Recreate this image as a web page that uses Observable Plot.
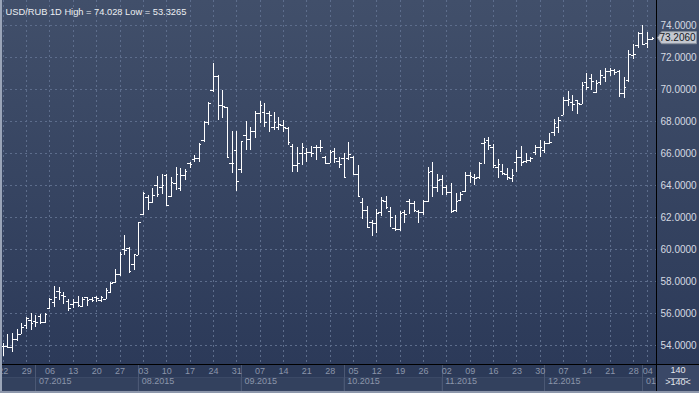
<!DOCTYPE html>
<html><head><meta charset="utf-8">
<script src="https://cdn.jsdelivr.net/npm/d3@7"></script>
<script src="https://cdn.jsdelivr.net/npm/@observablehq/plot@0.6"></script>
<style>
html,body{margin:0;padding:0;background:#2d3b59;}
#chart{position:relative;width:699px;height:393px;overflow:hidden;background:linear-gradient(to bottom,#414f6a 0px,#2c3a59 364px,#2c3a59 393px);}
#chart svg{display:block;}
#chart svg line{shape-rendering:crispEdges;}
</style></head><body><div id="chart"></div>
<script>
// ---- data (USD/RUB daily OHLC) ----
const startDate = "2015-06-22", endDate = "2016-01-05";
const holidays = ["2015-12-31", "2016-01-01"];
const openV = [53.95,53.92,53.90,54.35,54.70, 55.25,55.56,55.50,55.80,55.45, 56.30,56.70,57.40,57.10,56.77, 56.55,56.70,56.45,57.00,56.85, 56.98,56.80,56.90,57.33,57.96, 58.44,59.98,60.04,59.06,59.60, 62.20,63.27,62.96,64.00,63.90, 64.60,63.31,64.15,63.80,64.60, 65.40,65.60,65.70,66.80,67.96, 69.94,70.80,69.00,68.85,65.35, 66.19,65.00,67.10,66.85,67.40, 68.48,68.54,68.50,67.60,67.65, 67.75,67.54,66.44,65.25,65.98, 65.98,66.08,66.40,66.40,65.77, 65.40,66.10,65.50,65.67,65.70, 65.77,64.67,62.92,62.44,61.70, 61.60,62.30,63.00,62.40,61.30, 61.25,62.30,63.00,62.90,62.35, 62.30,63.00,64.90,63.90,64.40, 63.90,63.54,62.44,63.06,63.60, 64.60,64.50,64.50,66.60,66.80, 66.40,65.15,64.90,64.67,64.46, 65.46,65.77,65.50,65.56,66.04, 66.40,66.19,66.60,67.33,67.60, 68.38,69.31,69.20,69.30,69.04, 70.46,70.67,69.83,70.46,70.77, 71.13,71.19,71.13,69.73,70.56, 72.10,72.77,73.48,72.85,73.13];
const highV = [54.10,54.66,54.72,54.98,55.35, 55.75,55.98,55.90,55.92,55.98, 56.92,57.69,57.60,57.33,56.87, 56.85,57.06,57.00,57.02,56.98, 57.06,57.06,57.54,57.96,58.73, 59.83,60.87,60.15,59.69,61.71, 63.58,63.37,63.79,64.56,64.69, 64.69,64.52,65.15,65.04,65.00, 65.46,65.88,66.60,68.00,69.20, 71.60,70.88,69.94,68.90,67.35, 67.38,66.77,68.00,67.65,68.60, 69.25,69.10,68.60,68.58,68.23, 68.06,67.60,66.54,66.40,66.60, 66.29,66.44,66.50,66.80,65.81, 66.19,66.29,65.77,65.98,66.67, 65.83,65.25,63.21,62.71,61.81, 62.50,63.27,63.31,62.65,62.10, 62.35,62.44,63.15,63.00,62.46, 63.06,65.15,65.42,64.67,64.63, 64.00,64.10,63.48,63.56,64.79, 64.79,64.69,65.46,66.92,67.02, 66.56,65.60,65.30,65.06,65.00, 66.21,66.42,65.98,65.72,66.47, 66.80,66.74,67.25,68.12,68.27, 69.52,69.88,69.63,69.31,70.46, 70.98,70.92,70.56,71.19,71.33, 71.29,71.25,71.19,70.77,72.44, 72.80,73.58,74.028,73.58,73.22];
const lowV = [53.3265,53.80,53.58,54.27,54.67, 54.98,54.96,55.15,55.30,55.40, 56.23,56.40,56.80,56.56,56.15, 56.30,56.35,56.35,56.44,56.70, 56.70,56.70,56.85,57.27,57.85, 58.31,59.63,58.52,58.69,59.60, 62.13,62.44,62.85,63.23,63.44, 62.69,63.27,63.69,63.65,64.30, 65.04,65.46,65.46,66.70,67.75, 69.83,68.06,68.17,65.70,64.77, 63.65,64.77,66.19,66.19,66.96, 67.85,67.65,67.33,67.44,67.44, 67.33,66.50,64.83,64.83,65.25, 65.46,65.77,65.56,66.08,65.40, 65.35,65.35,65.04,64.46,65.56, 64.67,63.27,61.85,61.29,60.83, 61.00,62.05,62.50,61.40,61.15, 61.15,61.60,62.20,62.33,61.60, 62.13,62.92,63.27,63.54,63.38, 63.40,62.23,62.33,62.98,63.58, 64.10,64.02,64.40,65.30,66.17, 65.04,64.44,64.63,64.30,64.20, 64.83,65.20,65.35,65.46,65.85, 65.72,65.98,66.55,67.05,67.23, 68.38,68.96,68.63,68.42,69.04, 69.94,69.94,69.73,70.25,70.46, 70.83,70.88,69.52,69.42,70.46, 71.90,72.54,72.79,72.54,73.05];
const closeV = [53.92,53.85,54.40,54.70,55.10, 55.67,55.40,55.45,55.45,55.96, 56.85,57.00,57.30,57.05,56.30, 56.70,56.50,56.85,56.80,56.80, 56.92,57.00,57.44,57.90,58.44, 59.69,59.94,58.65,59.69,61.70, 63.50,62.96,63.37,63.44,64.00, 62.75,64.17,64.69,64.60,64.90, 65.30,65.70,66.55,67.96,69.10, 70.80,69.00,68.94,65.75,65.35, 64.25,66.77,66.90,67.40,68.48, 69.00,67.96,68.38,67.96,67.81, 67.60,66.69,65.25,65.35,66.40, 66.08,65.98,66.40,66.35,65.40, 66.08,65.71,65.29,64.50,65.92, 64.67,63.31,62.44,61.35,61.60, 62.23,63.06,62.65,62.00,61.25, 62.23,62.20,62.90,62.44,62.30, 63.00,64.83,63.90,64.31,63.90, 63.54,62.40,63.00,63.44,64.60, 64.56,64.46,65.40,66.67,66.50, 65.25,65.30,64.73,64.52,64.63, 65.77,65.46,65.56,65.67,66.40, 66.40,66.60,66.67,67.85,68.06, 69.31,69.38,69.04,69.10,70.25, 70.15,70.50,70.35,70.88,71.13, 71.19,71.04,69.73,70.15,72.17, 72.17,73.48,72.79,73.13,73.206];
const yTicks = [54, 56, 58, 60, 62, 64, 66, 68, 70, 72, 74];
const monthStarts = ["2015-06-01","2015-07-01","2015-08-01","2015-09-01","2015-10-01","2015-11-01","2015-12-01","2016-01-01"];
const monthLabels = ["", "07.2015", "08.2015", "09.2015", "10.2015", "11.2015", "12.2015", "01"];
const symbolName = "USD/RUB", periodName = "1D";

// ---- build table ----
const parse = d3.utcParse("%Y-%m-%d"), fmt = d3.utcFormat("%Y-%m-%d"), dayFmt = d3.utcFormat("%d");
const dates = d3.utcDays(parse(startDate), d3.utcDay.offset(parse(endDate), 1))
  .filter(d => d.getUTCDay() % 6 !== 0 && !holidays.includes(fmt(d)));
const rows = dates.map((d, i) => ({i, date: d, open: openV[i], high: highV[i], low: lowV[i], close: closeV[i]}));
const mondays = rows.filter(r => r.date.getUTCDay() === 1).map(r => ({i: r.i, label: dayFmt(r.date)}));
const xMin = -0.6, xMax = rows.length - 0.1;
const months = monthStarts.map((s, k) => {
  const t = parse(s);
  const prior = rows.filter(r => r.date <= t);
  return {sep: prior.length ? prior[prior.length - 1].i : xMin, label: monthLabels[k]};
});
const last = rows[rows.length - 1];
const title = `${symbolName} ${periodName} High = ${d3.max(highV)} Low = ${d3.min(lowV)}`;

const W = 699, H = 393, MR = 43, MB = 29;
const font = "'Liberation Sans', Arial, sans-serif";
const grid = "#5d6d8c";

const plot = Plot.plot({
  width: W, height: H,
  marginTop: 0, marginLeft: 0, marginRight: MR, marginBottom: MB,
  style: {background: "transparent", color: "#d6dae2", fontFamily: font, fontSize: "10px"},
  x: {type: "linear", domain: [xMin, xMax], axis: null},
  y: {domain: [74 - 339 / 16, 74 + 25 / 16], axis: "right", ticks: yTicks, tickFormat: d => d.toFixed(4), tickSize: 0, tickPadding: 4, label: null},
  marks: [
    Plot.ruleY(yTicks, {stroke: grid, strokeDasharray: "2,3"}),
    Plot.ruleX(mondays, {x: "i", stroke: grid, strokeDasharray: "2,3"}),
    Plot.ruleX(rows, {x: "i", y1: "low", y2: "high", stroke: "#ffffff"}),
    Plot.ruleY(rows, {y: "open", x1: d => d.i - 0.55, x2: "i", stroke: "#ffffff"}),
    Plot.ruleY(rows, {y: "close", x1: "i", x2: d => d.i + 0.55, stroke: "#ffffff"}),
    Plot.text(mondays, {x: "i", text: "label", frameAnchor: "bottom", dy: 9, fill: "#8b95aa", fontSize: 9}),
    Plot.text(months.filter(m => m.label), {x: "sep", text: "label", frameAnchor: "bottom", dy: 19, dx: 3, textAnchor: "start", fill: "#8b95aa", fontSize: 9}),
    Plot.text([title], {frameAnchor: "top-left", dx: 5, dy: 8, textAnchor: "start", fill: "#eceef2", fontSize: 9.3}),
    Plot.text([String(rows.length)], {frameAnchor: "bottom-right", dx: 21.5, dy: 8, textAnchor: "middle", fill: "#e4e7ec", fontSize: 9}),
    Plot.text([">" + rows.length + "<"], {frameAnchor: "bottom-right", dx: 21.5, dy: 20.5, textAnchor: "middle", fill: "#e4e7ec", fontSize: 9})
  ]
});
document.getElementById("chart").appendChild(plot);

// ---- chrome drawn with the plot's own scales ----
const svg = d3.select(plot);
const sx = plot.scale("x"), sy = plot.scale("y");
const X = v => sx.apply ? sx.apply(v) : d3.scaleLinear(sx.domain, sx.range)(v);
const Y = v => sy.apply ? sy.apply(v) : d3.scaleLinear(sy.domain, sy.range)(v);
const fx = W - MR, fy = H - MB;

const bg = svg.insert("g", ":first-child");
bg.append("rect").attr("x", 0).attr("y", fy).attr("width", fx).attr("height", MB).attr("fill", "#2c3a58");
bg.append("rect").attr("x", fx).attr("y", fy).attr("width", MR).attr("height", MB).attr("fill", "#3a4867");
months.forEach((m, k) => {
  const x0 = X(m.sep), x1 = k < months.length - 1 ? X(months[k + 1].sep) : fx;
  bg.append("rect").attr("x", Math.max(0, x0)).attr("y", fy + 13.5).attr("width", Math.max(0, x1 - Math.max(0, x0))).attr("height", 13.5)
    .attr("fill", "#33415e").attr("stroke", "#3b4966").attr("stroke-width", 1);
});
months.forEach(m => {
  const x = Math.round(X(m.sep)) + 0.5;
  if (x > 2) bg.append("line").attr("x1", x).attr("x2", x).attr("y1", fy).attr("y2", H - 2).attr("stroke", "#4b5874");
});

const fg = svg.append("g");
fg.append("line").attr("x1", fx + 0.5).attr("x2", fx + 0.5).attr("y1", 0).attr("y2", H).attr("stroke", "#000");
fg.append("line").attr("x1", 0).attr("x2", W).attr("y1", fy + 0.5).attr("y2", fy + 0.5).attr("stroke", "#000");
fg.append("line").attr("x1", fx + 12).attr("x2", fx + 32).attr("y1", fy + 14.5).attr("y2", fy + 14.5).attr("stroke", "#a4acbc");
fg.append("rect").attr("x", 0).attr("y", 0).attr("width", 2).attr("height", H).attr("fill", "#9ba5b8");
fg.append("rect").attr("x", 0).attr("y", H - 2).attr("width", W).attr("height", 2).attr("fill", "#8d97ab");

// price tag for the last close
const ty = Y(last.close);
fg.append("path")
  .attr("d", `M${fx + 1.5},${ty} L${fx + 5.5},${ty - 6} L${W - 2.5},${ty - 6} L${W - 2.5},${ty + 6} L${fx + 5.5},${ty + 6} Z`)
  .attr("fill", "#c4c8d0").attr("stroke", "#8a919e");
fg.append("text").attr("x", fx + 21.5).attr("y", ty).attr("dy", "0.34em").attr("text-anchor", "middle")
  .attr("font-size", 10).attr("font-family", font).attr("fill", "#15181e").text(last.close.toFixed(4));
</script></body></html>
